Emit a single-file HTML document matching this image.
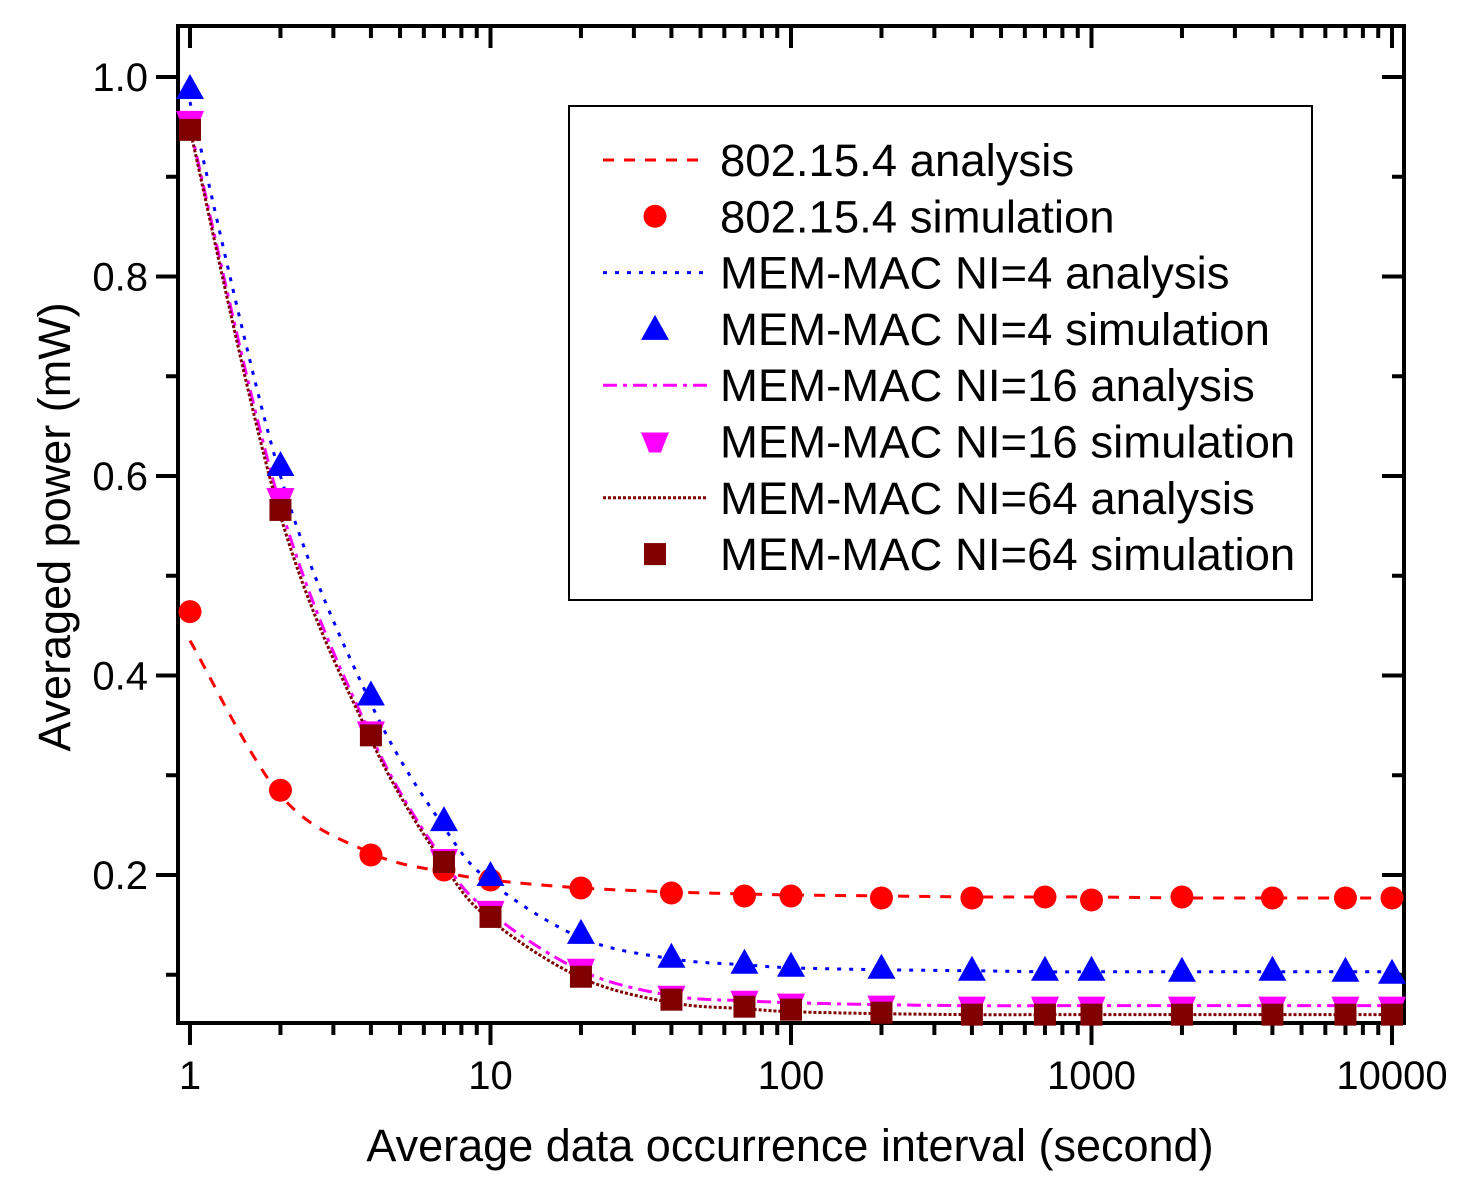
<!DOCTYPE html>
<html><head><meta charset="utf-8"><style>
body{margin:0;background:#fff;}
svg{display:block;font-family:"Liberation Sans",Arial,sans-serif;}
</style></head><body>
<svg id="chart" width="1471" height="1193" xmlns="http://www.w3.org/2000/svg"></svg>
<script>
const xVals=[1,2,4,7,10,20,40,70,100,200,400,700,1000,2000,4000,7000,10000];
const redSim=[0.464,0.285,0.220,0.205,0.195,0.187,0.182,0.179,0.179,0.177,0.177,0.178,0.175,0.178,0.177,0.177,0.177];
const redAna=[0.435,0.280,0.222,0.203,0.195,0.187,0.183,0.181,0.180,0.179,0.178,0.178,0.178,0.177,0.177,0.177,0.177];
const blueSim=[0.989,0.611,0.381,0.255,0.200,0.142,0.118,0.112,0.109,0.107,0.105,0.105,0.105,0.104,0.105,0.104,0.102];
const blueAna=[0.975,0.600,0.372,0.248,0.193,0.137,0.116,0.110,0.107,0.105,0.104,0.103,0.103,0.103,0.103,0.103,0.103];
const magSim=[0.957,0.579,0.345,0.217,0.165,0.107,0.080,0.075,0.072,0.070,0.069,0.069,0.069,0.069,0.069,0.069,0.069];
const magAna=[0.950,0.570,0.340,0.214,0.162,0.104,0.079,0.074,0.072,0.070,0.069,0.069,0.069,0.069,0.069,0.069,0.069];
const brnSim=[0.947,0.566,0.340,0.213,0.158,0.098,0.075,0.068,0.065,0.062,0.060,0.060,0.060,0.060,0.060,0.060,0.060];
const brnAna=[0.947,0.560,0.336,0.210,0.155,0.097,0.072,0.066,0.063,0.061,0.060,0.060,0.060,0.060,0.060,0.060,0.060];
const xTicks=[1,10,100,1000,10000];
const xTickLabels=["1","10","100","1000","10000"];
const yTicks=[0.2,0.4,0.6,0.8,1.0];
const yTickLabels=["0.2","0.4","0.6","0.8","1.0"];
const legendLabels=["802.15.4 analysis","802.15.4 simulation","MEM-MAC NI=4 analysis","MEM-MAC NI=4 simulation","MEM-MAC NI=16 analysis","MEM-MAC NI=16 simulation","MEM-MAC NI=64 analysis","MEM-MAC NI=64 simulation"];

const NS="http://www.w3.org/2000/svg";
const svg=document.getElementById('chart');
const L=178,R=1404,T=26,B=1023;
const X=v=>190+300.5*Math.log10(v);
const Y=v=>1074.5-997.5*v;
function mk(tag,attrs,parent){const e=document.createElementNS(NS,tag);for(const k in attrs)e.setAttribute(k,attrs[k]);(parent||svg).appendChild(e);return e;}

const axes=mk('g',{});


for(let d=0;d<=4;d++){for(let m=2;m<=9;m++){const v=m*Math.pow(10,d);const x=X(v);if(x>R)continue;
 mk('line',{x1:x,y1:B,x2:x,y2:B+12,stroke:'#000','stroke-width':4},axes);
 mk('line',{x1:x,y1:T,x2:x,y2:T+12,stroke:'#000','stroke-width':4},axes);}}
xTicks.forEach((v,i)=>{const x=X(v);
 mk('line',{x1:x,y1:B,x2:x,y2:B+22,stroke:'#000','stroke-width':4},axes);
 mk('line',{x1:x,y1:T,x2:x,y2:T+22,stroke:'#000','stroke-width':4},axes);
 const t=mk('text',{x:x,y:1089,'font-size':40,'text-anchor':'middle'},axes);t.textContent=xTickLabels[i];
 
 });
for(let k=1;k<=10;k++){const v=k*0.1;const y=Y(v);if(y<T||y>B)continue;const maj=(k%2===0);
 mk('line',{x1:L-(maj?22:12),y1:y,x2:L,y2:y,stroke:'#000','stroke-width':4},axes);
 mk('line',{x1:R,y1:y,x2:R-(maj?22:12),y2:y,stroke:'#000','stroke-width':4},axes);}
yTicks.forEach((v,i)=>{const t=mk('text',{x:148,y:Y(v)+14,'font-size':40,'text-anchor':'end'},axes);t.textContent=yTickLabels[i];
 
 });

function curve(xs,ys){const p=xs.map((v,i)=>[X(v),Y(ys[i])]);let d='M'+p[0][0]+','+p[0][1];
 for(let i=0;i<p.length-1;i++){const p0=p[Math.max(0,i-1)],p1=p[i],p2=p[i+1],p3=p[Math.min(p.length-1,i+2)];
  const c1=[p1[0]+(p2[0]-p0[0])/6,p1[1]+(p2[1]-p0[1])/6],c2=[p2[0]-(p3[0]-p1[0])/6,p2[1]-(p3[1]-p1[1])/6];
  d+=' C'+c1[0]+','+c1[1]+' '+c2[0]+','+c2[1]+' '+p2[0]+','+p2[1];}return d;}
const styles={red:{c:'#ff0000',dash:'11,10'},blue:{c:'#0000ff',dash:'4,8'},mag:{c:'#ff00ff',dash:'14,6,4,6'},brn:{c:'#800000',dash:'3,2'}};
function marker(type,x,y,c,parent){
 if(type==='circle')return mk('circle',{cx:x,cy:y,r:11.5,fill:c},parent);
 if(type==='up')return mk('polygon',{points:`${x},${y-14} ${x-14},${y+11} ${x+14},${y+11}`,fill:c},parent);
 if(type==='down')return mk('polygon',{points:`${x-14},${y-9} ${x+14},${y-9} ${x+9},${y+3} ${x+6},${y+11} ${x-6},${y+11} ${x-9},${y+3}`,fill:c},parent);
 return mk('rect',{x:x-11,y:y-11,width:22,height:22,fill:c},parent);}
const series=[[redAna,redSim,'red','circle'],[blueAna,blueSim,'blue','up'],[magAna,magSim,'mag','down'],[brnAna,brnSim,'brn','square']];
const plot=mk('g',{});


series.forEach(([ana,sim,k,m])=>{const s=styles[k];
 const p=mk('path',{d:curve(xVals,ana),fill:'none',stroke:s.c,'stroke-width':3,'stroke-dasharray':s.dash},plot);
 
 });
series.forEach(([ana,sim,k,m])=>{const s=styles[k];
 sim.forEach((v,i)=>{const e=marker(m,X(xVals[i]),Y(v),s.c,plot);
  
  });});
mk('rect',{x:L,y:T,width:R-L,height:B-T,fill:'none',stroke:'#000','stroke-width':4},axes);

const lg=mk('g',{});


mk('rect',{x:569,y:106,width:743,height:494,fill:'#fff',stroke:'#000','stroke-width':2},lg);
legendLabels.forEach((lab,i)=>{const y=160+i*56.3;const ser=series[Math.floor(i/2)];const s=styles[ser[2]];
 const g=mk('g',{},lg);
 
 
 if(i%2===0)mk('line',{x1:603,y1:y,x2:708,y2:y,stroke:s.c,'stroke-width':3,'stroke-dasharray':s.dash},g);
 else marker(ser[3],655,y,s.c,g);
 const t=mk('text',{x:720,y:y+16,'font-size':45.5},g);t.textContent=lab;});

const xt=mk('text',{x:790,y:1161,'font-size':45,'text-anchor':'middle'});xt.textContent='Average data occurrence interval (second)';


const yt=mk('text',{x:0,y:0,'font-size':45,'text-anchor':'middle',transform:'translate(70,527) rotate(-90)'});yt.textContent='Averaged power (mW)';


</script>
</body></html>
